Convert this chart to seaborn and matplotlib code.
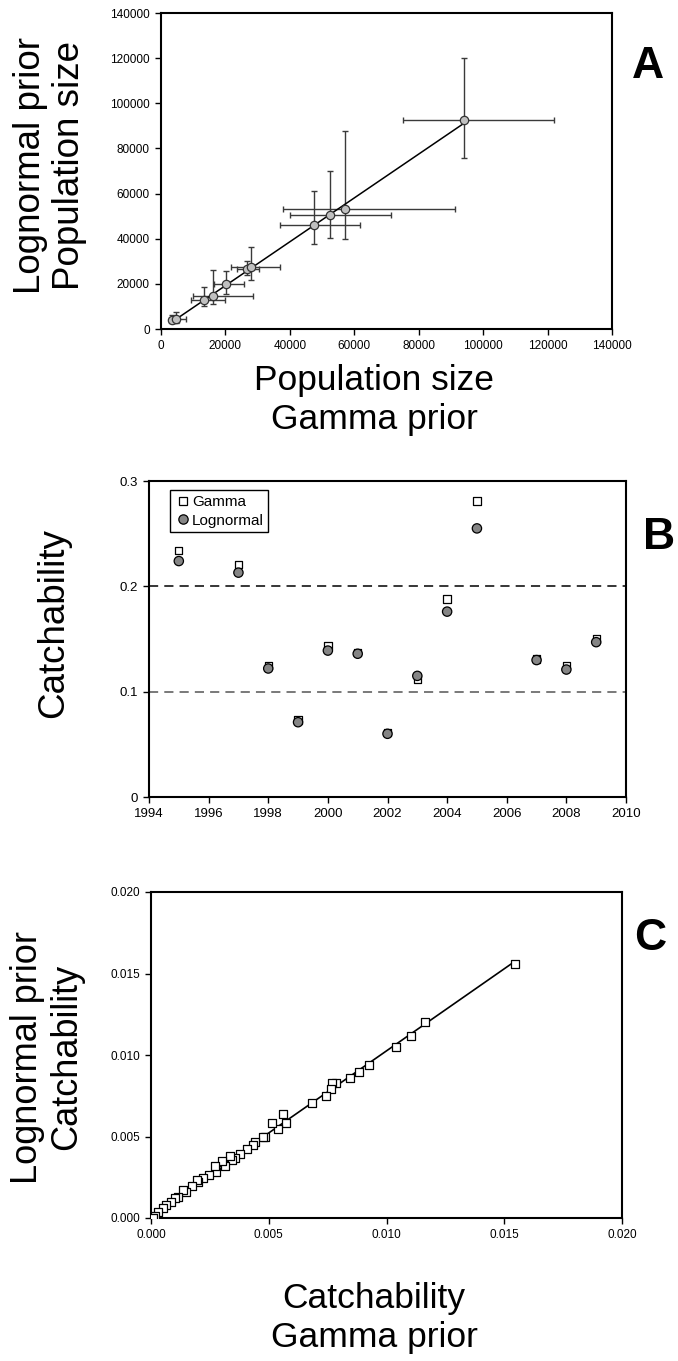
import numpy as np
import pandas as pd
import matplotlib
matplotlib.use("Agg")
import matplotlib.pyplot as plt
import seaborn as sns

# --- Painel A: tamanho populacional (gamma x lognormal) ---
pop_gamma = [3500, 4600, 13400, 16200, 20300, 26800, 28000, 47400, 52400, 57100, 94200]
pop_logn = [3800, 4400, 12700, 14500, 19900, 26600, 27300, 46200, 50300, 53100, 92400]
pop_gamma_lo = [2500, 4000, 9400, 10000, 16400, 23500, 21600, 37000, 40100, 37800, 75100]
pop_gamma_hi = [5500, 7800, 19800, 28600, 25900, 30400, 36800, 61900, 71500, 91400, 121900]
pop_logn_lo = [2500, 2500, 10000, 11200, 15400, 24100, 21900, 37600, 40300, 39900, 75600]
pop_logn_hi = [6000, 7400, 18700, 26100, 25800, 30300, 36500, 61300, 70000, 87700, 120000]

# --- Painel B: catchability por ano ---
anos = [1995, 1997, 1998, 1999, 2000, 2001, 2002, 2003, 2004, 2005, 2007, 2008, 2009]
q_gamma = [0.234, 0.221, 0.125, 0.073, 0.144, 0.137, 0.061, 0.112, 0.188, 0.281, 0.131, 0.125, 0.150]
q_logn = [0.224, 0.213, 0.122, 0.071, 0.139, 0.136, 0.060, 0.115, 0.176, 0.255, 0.130, 0.121, 0.147]

# --- Painel C: catchability (gamma x lognormal) ---
c_gamma = [0.01545, 0.01162, 0.01105, 0.0104, 0.00927, 0.00884, 0.00844, 0.00785, 0.00769,
           0.00765, 0.00741, 0.00684, 0.00573, 0.00561, 0.00538, 0.00512, 0.00483, 0.00475,
           0.0044, 0.00431, 0.00407, 0.0038, 0.00358, 0.00343, 0.00334, 0.00314, 0.00301,
           0.00275, 0.0027, 0.00248, 0.0022, 0.00198, 0.00194, 0.00172, 0.0015, 0.00138,
           0.00114, 0.00101, 0.00086, 0.00064, 0.00051, 0.00029, 0.00015, 0.0001]
c_logn = [0.01559, 0.0120, 0.01118, 0.01051, 0.00939, 0.00894, 0.00857, 0.00827, 0.00829,
          0.0079, 0.00749, 0.00708, 0.0058, 0.00637, 0.00547, 0.00582, 0.005, 0.00494,
          0.00465, 0.00449, 0.00422, 0.00394, 0.00367, 0.00357, 0.00382, 0.00322, 0.00347,
          0.00282, 0.00316, 0.00261, 0.00245, 0.00218, 0.00231, 0.00194, 0.00161, 0.00173,
          0.00127, 0.00122, 0.00096, 0.00082, 0.00061, 0.00035, 0.0001, 0.0]

sns.set_style("ticks")
plt.rcParams["font.family"] = ["Liberation Sans", "DejaVu Sans"]
plt.rcParams["text.color"] = "black"
plt.rcParams["axes.labelcolor"] = "black"
plt.rcParams["axes.edgecolor"] = "black"
plt.rcParams["axes.linewidth"] = 1.5
plt.rcParams["xtick.color"] = "black"
plt.rcParams["ytick.color"] = "black"

W, H = 678, 1361
fig = plt.figure(figsize=(W / 100, H / 100), dpi=100)


def eixo(l, t, r, b):
    # posição em pixels -> fração da figura
    return fig.add_axes([l / W, 1 - b / H, (r - l) / W, (b - t) / H])


def texto(px, py, s, **kw):
    fig.text(px / W, 1 - py / H, s, ha="center", va="center", **kw)


def estilo(ax, fs):
    ax.tick_params(direction="out", length=4, width=1, labelsize=fs, pad=4,
                   labelcolor="black")
    for sp in ax.spines.values():
        sp.set_color("black")
        sp.set_linewidth(1.5)
    ax.set_xlabel("")
    ax.set_ylabel("")


# ---------- A ----------
axA = eixo(161, 13, 612, 329)
dfA = pd.DataFrame({"gamma": pop_gamma, "logn": pop_logn})
xerr = [np.array(pop_gamma) - np.array(pop_gamma_lo), np.array(pop_gamma_hi) - np.array(pop_gamma)]
yerr = [np.array(pop_logn) - np.array(pop_logn_lo), np.array(pop_logn_hi) - np.array(pop_logn)]
axA.errorbar(pop_gamma, pop_logn, xerr=xerr, yerr=yerr, fmt="none", ecolor="#3a3a3a",
             elinewidth=1, capsize=2.5, capthick=1, zorder=1)
sns.regplot(data=dfA, x="gamma", y="logn", ax=axA, scatter=False, ci=None, truncate=True,
            line_kws={"color": "black", "lw": 1.1, "zorder": 2})
sns.scatterplot(data=dfA, x="gamma", y="logn", ax=axA, marker="o", s=36, color="#c0c0c0",
                edgecolor="#333333", linewidth=0.9, zorder=3)
axA.set_xlim(0, 140000)
axA.set_ylim(0, 140000)
axA.set_xticks(range(0, 140001, 20000))
axA.set_yticks(range(0, 140001, 20000))
estilo(axA, 8.5)
texto(50, 166, "Lognormal prior\nPopulation size", fontsize=26.5, rotation=90, linespacing=1.18)
texto(374, 400, "Population size\nGamma prior", fontsize=25.5, linespacing=1.2)
texto(648, 67, "A", fontsize=32, fontweight="bold")

# ---------- B ----------
axB = eixo(149, 481, 626, 797)
dfB = pd.DataFrame({"ano": anos * 2, "q": q_gamma + q_logn,
                    "prior": ["Gamma"] * len(anos) + ["Lognormal"] * len(anos)})
axB.axhline(0.2, color="black", lw=1.1, ls=(0, (6, 4)), zorder=1)
axB.axhline(0.1, color="#555555", lw=1.1, ls=(0, (6, 4)), zorder=1)
sns.scatterplot(data=dfB, x="ano", y="q", hue="prior", style="prior", ax=axB,
                markers={"Gamma": "s", "Lognormal": "o"},
                palette={"Gamma": "white", "Lognormal": "#858585"},
                size="prior", sizes={"Gamma": 28, "Lognormal": 45},
                edgecolor="black", linewidth=0.9, zorder=3)
axB.set_xlim(1994, 2010)
axB.set_ylim(0, 0.3)
axB.set_xticks(range(1994, 2011, 2))
axB.set_yticks([0, 0.1, 0.2, 0.3])
axB.set_yticklabels(["0", "0.1", "0.2", "0.3"])
estilo(axB, 9.5)
leg = axB.legend(loc="upper left", bbox_to_anchor=(0.045, 0.97), fontsize=11, frameon=True,
                 fancybox=False, edgecolor="black", framealpha=1, handletextpad=0.1,
                 borderpad=0.3, labelspacing=0.3, handlelength=1.0, borderaxespad=0)
leg.get_frame().set_linewidth(1)
for h in leg.legend_handles:
    h.set_markeredgecolor("black")
texto(54, 623, "Catchability", fontsize=26.5, rotation=90)
texto(659, 537, "B", fontsize=32, fontweight="bold")

# ---------- C ----------
axC = eixo(151, 892, 622, 1218)
dfC = pd.DataFrame({"gamma": c_gamma, "logn": c_logn})
sns.regplot(data=dfC, x="gamma", y="logn", ax=axC, scatter=False, ci=None, truncate=True,
            line_kws={"color": "black", "lw": 1.2, "zorder": 2})
sns.scatterplot(data=dfC, x="gamma", y="logn", ax=axC, marker="s", s=30, color="white",
                edgecolor="black", linewidth=0.9, zorder=3)
axC.set_xlim(0, 0.02)
axC.set_ylim(0, 0.02)
axC.set_xticks([0, 0.005, 0.01, 0.015, 0.02])
axC.set_yticks([0, 0.005, 0.01, 0.015, 0.02])
axC.xaxis.set_major_formatter(matplotlib.ticker.FormatStrFormatter("%.3f"))
axC.yaxis.set_major_formatter(matplotlib.ticker.FormatStrFormatter("%.3f"))
estilo(axC, 8.5)
texto(47, 1057, "Lognormal prior\nCatchability", fontsize=26, rotation=90, linespacing=1.18)
texto(374, 1318, "Catchability\nGamma prior", fontsize=25.5, linespacing=1.2)
texto(650, 938, "C", fontsize=32, fontweight="bold")

fig.savefig("out.png", dpi=100)
